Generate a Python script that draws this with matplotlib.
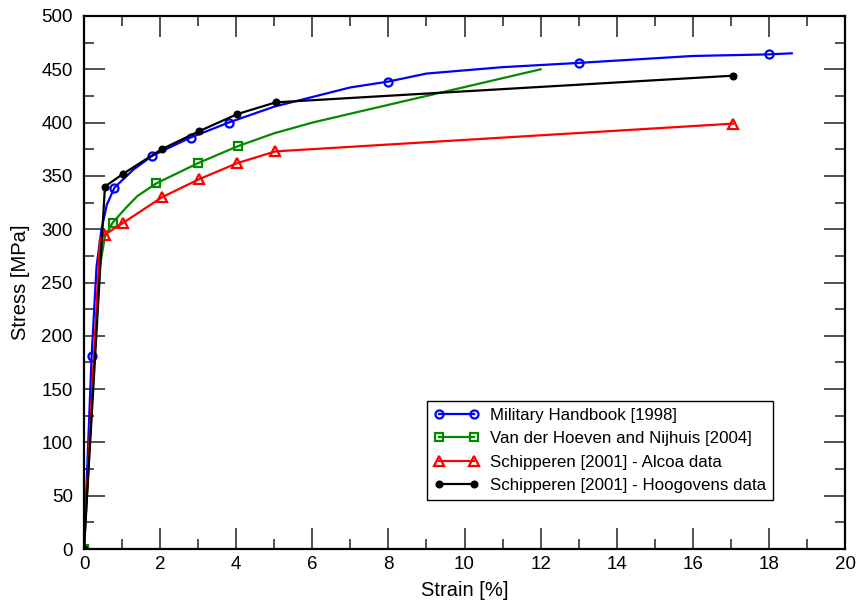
import matplotlib
matplotlib.use("Agg")
import matplotlib.pyplot as plt
import numpy as np

plt.rcParams['font.family'] = ['Liberation Sans', 'DejaVu Sans']

# Military Handbook [1998]
mil_strain = [0, 0.2, 0.33, 0.46, 0.6, 0.8, 1.3, 1.8, 2.8, 3.8, 5, 6, 7, 8, 9, 11, 13, 16, 18, 18.6]
mil_stress = [0, 181, 265, 300, 323, 339, 356, 369, 386, 400, 415, 424, 433, 438.5, 446, 452, 456, 462.5, 464, 465]
mil_marks = [0, 1, 5, 7, 8, 9, 13, 16, 18]

# Van der Hoeven and Nijhuis [2004]
vdh_strain = [0, 0.4, 0.55, 0.75, 1.1, 1.4, 1.9, 3.0, 4.05, 5, 6, 12]
vdh_stress = [0, 262, 293, 306, 320, 331, 343, 362, 378, 390, 400, 450]
vdh_marks = [0, 3, 6, 7, 8]

# Schipperen [2001] - Alcoa data
alc_strain = [0, 0.42, 0.55, 1.03, 2.05, 3.03, 4.03, 5.03, 17.05]
alc_stress = [0, 290, 295, 306, 330, 347, 362, 373, 399]
alc_marks = [0, 2, 3, 4, 5, 6, 7, 8]

# Schipperen [2001] - Hoogovens data
hoo_strain = [0, 0.55, 1.03, 2.04, 3.03, 4.03, 5.04, 17.05]
hoo_stress = [0, 340, 352, 375, 392, 408, 419, 444]

x_ticks = list(range(0, 21, 2))
y_ticks = list(range(0, 501, 50))

fig = plt.figure(figsize=(8.61, 6.05), dpi=100)
ax = fig.add_axes([84 / 861, 1 - 549 / 605, 761 / 861, 533 / 605])

lw = 1.6
ax.plot(mil_strain, mil_stress, color='#0000ff', lw=lw, marker='o', markevery=mil_marks,
        ms=5.8, mfc='none', mew=1.6, label='Military Handbook [1998]')
ax.plot(vdh_strain, vdh_stress, color='#008b00', lw=lw, marker='s', markevery=vdh_marks,
        ms=5.2, mfc='none', mew=1.6, label='Van der Hoeven and Nijhuis [2004]')
ax.plot(alc_strain, alc_stress, color='#ff0000', lw=lw, marker='^', markevery=alc_marks,
        ms=7, mfc='none', mew=1.6, label='Schipperen [2001] - Alcoa data')
ax.plot(hoo_strain, hoo_stress, color='black', lw=lw, marker='o',
        ms=4.8, mfc='black', mew=1.0, label='Schipperen [2001] - Hoogovens data')

ax.set_xlim(0, 20)
ax.set_ylim(0, 500)
ax.set_xticks(x_ticks)
ax.set_yticks(y_ticks)
ax.set_xticks(np.arange(0, 21, 1), minor=True)
ax.set_yticks(np.arange(0, 501, 25), minor=True)
ax.tick_params(which='both', direction='in', top=True, right=True, labelsize=13.5, width=1.2, color='#333333')
ax.tick_params(which='major', length=15)
ax.tick_params(axis='y', which='major', pad=8)
ax.tick_params(axis='x', which='major', pad=5)
ax.tick_params(which='minor', length=7.5)
for s in ax.spines.values():
    s.set_linewidth(1.6)

ax.set_xlabel('Strain [%]', fontsize=14.5, labelpad=6)
ax.set_ylabel('Stress [MPa]', fontsize=14.5, labelpad=8)

leg = ax.legend(loc='lower left', bbox_to_anchor=(0.4507, 0.092), fontsize=12.2,
                numpoints=2, handlelength=2.7, handletextpad=0.6, labelspacing=0.5,
                borderpad=0.4, fancybox=False, framealpha=1, edgecolor='black',
                borderaxespad=0)
leg.get_frame().set_linewidth(1.0)

fig.savefig('out.png', dpi=100)
